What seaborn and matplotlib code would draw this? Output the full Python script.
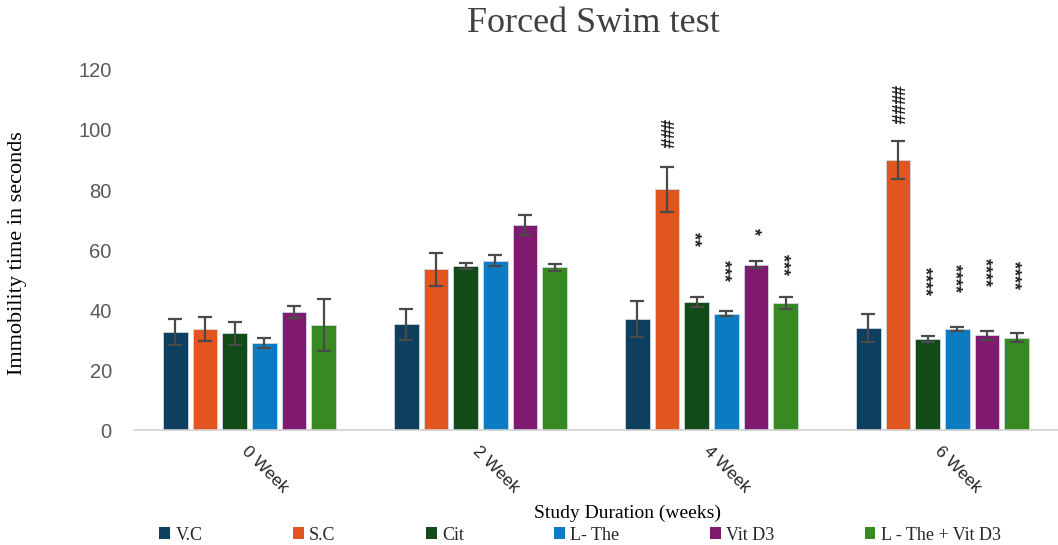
import numpy as np
import pandas as pd
import matplotlib
matplotlib.use("Agg")
import matplotlib.pyplot as plt
import seaborn as sns
from matplotlib.patches import Patch

weeks = ["0 Week", "2 Week", "4 Week", "6 Week"]
groups = ["V.C", "S.C", "Cit", "L- The", "Vit D3", "L - The + Vit D3"]
colors = ["#0f3f5f", "#e2551f", "#104b18", "#0b7cc4", "#801a70", "#378a22"]

means = {
    "V.C":              [32.8, 35.3, 37.0, 34.1],
    "S.C":              [33.7, 53.6, 80.2, 90.0],
    "Cit":              [32.2, 54.7, 42.6, 30.4],
    "L- The":           [29.1, 56.4, 38.8, 33.6],
    "Vit D3":           [39.3, 68.2, 55.1, 31.6],
    "L - The + Vit D3": [35.1, 54.2, 42.4, 30.8],
}
errors = {
    "V.C":              [4.3, 5.2, 5.9, 4.6],
    "S.C":              [4.0, 5.5, 7.6, 6.4],
    "Cit":              [3.7, 1.0, 1.7, 1.1],
    "L- The":           [1.6, 1.8, 0.9, 0.7],
    "Vit D3":           [2.0, 3.3, 1.1, 1.5],
    "L - The + Vit D3": [8.6, 1.2, 2.0, 1.5],
}
# significance labels (text, y-centre) per group and week
sig_labels = {
    "S.C":              ["", "", "###", "####"],
    "Cit":              ["", "", "**", "****"],
    "L- The":           ["", "", "***", "****"],
    "Vit D3":           ["", "", "*", "****"],
    "L - The + Vit D3": ["", "", "***", "****"],
}
sig_y = {
    "S.C":              [0, 0, 98.6, 108.3],
    "Cit":              [0, 0, 63.7, 49.7],
    "L- The":           [0, 0, 53.3, 50.5],
    "Vit D3":           [0, 0, 66.0, 52.5],
    "L - The + Vit D3": [0, 0, 55.0, 51.7],
}

rows = []
for g in groups:
    for w, m in zip(weeks, means[g]):
        rows.append({"Week": w, "Group": g, "Value": m})
df = pd.DataFrame(rows)

sns.set_theme(style="white")
plt.rcParams["font.family"] = ["Liberation Serif", "DejaVu Serif"]

fig = plt.figure(figsize=(10.58, 5.45), dpi=100)
ax = fig.add_axes([134 / 1058, 115 / 545, 924 / 1058, 360 / 545])

sns.barplot(data=df, x="Week", y="Value", hue="Group", order=weeks,
            hue_order=groups, palette=colors, errorbar=None,
            width=0.77, gap=0.17, ax=ax, legend=False,
            edgecolor="#d0d8e0", linewidth=0.6, saturation=1)

for g, cont in zip(groups, ax.containers):
    xs = [b.get_x() + b.get_width() / 2 for b in cont]
    ax.errorbar(xs, means[g], yerr=errors[g], fmt="none", ecolor="#4a4a4a",
                elinewidth=1.6, capsize=5, capthick=1.6, zorder=5)
    if g in sig_labels:
        for x, lab, yy in zip(xs, sig_labels[g], sig_y[g]):
            if lab:
                ax.text(x - 0.012, yy, lab, rotation=270, ha="center", va="center",
                        fontsize=13, fontweight="bold", color="#222222",
                        family=["Liberation Sans", "DejaVu Sans"])

ax.set_xlim(-0.5, 3.5)
ax.set_ylim(0, 120)
ax.set_yticks(range(0, 121, 20))
for s in ["top", "right", "left"]:
    ax.spines[s].set_visible(False)
ax.spines["bottom"].set_color("#d0d0d0")
ax.spines["bottom"].set_linewidth(1.2)
ax.tick_params(axis="both", length=0)
ax.tick_params(axis="y", labelsize=14.5, labelcolor="#595959", pad=16)
for t in ax.get_yticklabels():
    t.set_family(["Liberation Sans", "DejaVu Sans"])
ax.set_xticks(range(len(weeks)))
ax.set_xticklabels(weeks, rotation=-45, ha="left", rotation_mode="anchor",
                   fontsize=12.5, color="#262626",
                   family=["Liberation Sans", "DejaVu Sans"])
ax.tick_params(axis="x", pad=10)

ax.set_ylabel("Immobility time in seconds", fontsize=16, color="#000000")
ax.yaxis.set_label_coords(-(134 - 27) / 924, (430 - 253) / 360)
ax.set_xlabel("Study Duration (weeks)", fontsize=14, color="#000000")
ax.xaxis.set_label_coords((627 - 134) / 924, (430 - 505) / 360)

fig.text(593 / 1058, 1 - 24 / 545, "Forced Swim test", ha="center", va="center",
         fontsize=26, color="#404040")

handles = [Patch(facecolor=c, edgecolor="none") for c in colors]
fig.legend(handles, groups, loc="center", ncol=6,
           bbox_to_anchor=(580 / 1058, 1 - 535 / 545), frameon=False,
           fontsize=13, handlelength=0.6, handleheight=0.6, handletextpad=0.3,
           columnspacing=5.0, borderpad=0.1)

fig.savefig("out.png", dpi=100)
